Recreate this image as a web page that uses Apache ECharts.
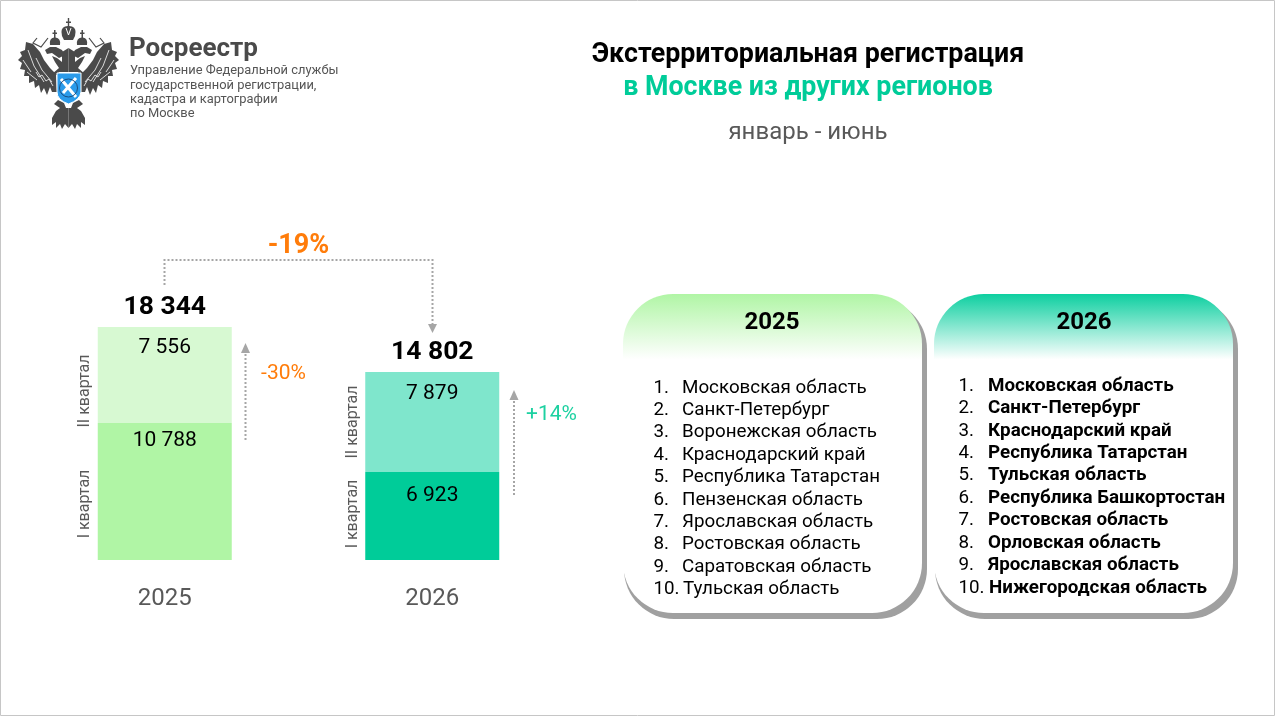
<!DOCTYPE html>
<html><head><meta charset="utf-8">
<style>html,body{margin:0;padding:0;background:#fff}#c{width:1275px;height:716px}</style>
<script src="https://cdn.jsdelivr.net/npm/echarts@6/dist/echarts.min.js"></script>
</head><body><div id="c"></div>
<script>
const years = ['2025', '2026'];
const quarter1 = [10788, 6923];
const quarter2 = [7556, 7879];
const totals = [18344, 14802];
const q1Colors = ['#B0F5A5', '#00CC99'];
const q2Colors = ['#D7F9D2', '#7FE6CC'];
const quarterNames = ['I квартал', 'II квартал'];
const list2025 = ['Московская область','Санкт-Петербург','Воронежская область','Краснодарский край','Республика Татарстан','Пензенская область','Ярославская область','Ростовская область','Саратовская область','Тульская область'];
const list2026 = ['Московская область','Санкт-Петербург','Краснодарский край','Республика Татарстан','Тульская область','Республика Башкортостан','Ростовская область','Орловская область','Ярославская область','Нижегородская область'];
const logoLines = ['Управление Федеральной службы','государственной регистрации,','кадастра и картографии','по Москве'];

const FONT = 'Roboto';
const fmt = v => String(v).replace(/\B(?=(\d{3})+$)/g, ' ');
const chart = echarts.init(document.getElementById('c'), null, {renderer:'canvas'});

const text = (x, y, t, size, color, opt={}) => ({
  type:'text', x, y, rotation: opt.rotation||0, z:opt.z||5, silent:true,
  style:{text:t, fontFamily:FONT, fontSize:size, fontWeight:opt.weight||'normal', fill:color,
    align:opt.align||'left', verticalAlign:'middle'}
});
const dotted = (pts) => ({type:'polyline', z:3, silent:true, shape:{points:pts},
  style:{stroke:'#A6A6A6', lineWidth:2, lineDash:[2,2], fill:null}});
const tri = (pts) => ({type:'polygon', z:3, silent:true, shape:{points:pts}, style:{fill:'#A6A6A6'}});

function panel(x, color, items, bold, numX, nameX, y0, dy){
  const w=299, h=319, y=294, r=50;
  const out=[
    {type:'rect', z:1, silent:true, shape:{x:x+1,y:y+5,width:w+4,height:h+1,r}, style:{fill:'#A0A0A0'}},
    {type:'rect', z:2, silent:true, shape:{x,y,width:w,height:h,r},
     style:{fill:new echarts.graphic.LinearGradient(0,0,0,1,[{offset:0,color},{offset:0.205,color:'#ffffff'},{offset:1,color:'#ffffff'}])}}
  ];
  items.forEach((t,i)=>{
    const yy=y0+dy*i;
    out.push(text(numX,yy,(i+1)+'.',18.8,'#000000'));
    out.push(text(nameX+(i===9?1:0),yy,t,18.8,'#000000',{weight:bold?'bold':'normal'}));
  });
  return out;
}

/* Emblem: left half drawn in page pixels, mirrored around x=68.5 */
let shapeId=0;
function svgShape(d, scaleX, style, z){
  const name='emb'+(shapeId++);
  echarts.graphic.registerShape(name, echarts.graphic.extendPath(d, {}));
  return {type:name, z, silent:true, originX:68.5, originY:0, scaleX, style};
}
const wing = 'M26 42 L33 44 L40 52 L44 60 L50 68 L56 74 L57 92 L52 92 L50 87 L47 95 L44 88 L41 93 L39 85 L35 88 L34 81 L29 83 L29 76 L24 76 L25 70 L20 69 L22 63 L18 60 L22 56 L20 52 L25 50 Z';
const feathers = 'M28 50 L34 66 L44 82 M23 60 L31 72 M27 72 L37 80 M36 58 L42 70 L52 82 M36 72 L39 77 L42 75 L46 81 L49 79 L53 86';
const hook = 'M37 38 L33 43 L41 47 L48 38';
const neck = 'M68.5 48 L62 52 L62 62 L57 58 L52 56 L55 62 L59 68 L52 74 L57 75 L59 72 L68.5 72 Z';
const head = 'M45 50 L50 47 L56 47 L62 50 L65 55 L59 58 L52 53 L47 54 Z';
const crownS = 'M50 45 Q49 38 54 37.5 L54 34 L52.5 34 L52.5 32.5 L54 32.5 L54 30 L55.5 30 L55.5 32.5 L57 32.5 L57 34 L55.5 34 L55.5 37.5 Q61 38 60 45 Z';
const tail = 'M60 108 L56 111 L52 118 L52 125 L56 122 L56 128 L60 124 L62 129 L65 124 L68.5 128 L68.5 108 Z';
const leg = 'M58 100 L64 103 L66 108 L60 108 L54 104 Z';
const crownC = 'M62 36 Q60 28 65 26.5 L67.8 26 L67.8 23 L66 23 L66 21.5 L67.8 21.5 L67.8 18 L69.2 18 L69.2 21.5 L71 21.5 L71 23 L69.2 23 L69.2 26 L72 26.5 Q77 28 75 36 L73 40 L64 40 Z';
const half = [wing, neck, head, crownS, tail, leg];
const emblem = [];
[1,-1].forEach(s=>{
  half.forEach(d=>emblem.push(svgShape(d,s,{fill:'#4A4A4A'},3)));
  emblem.push(svgShape(hook,s,{stroke:'#4A4A4A',lineWidth:1.2,fill:null},3));
  emblem.push(svgShape(feathers,s,{stroke:'#ffffff',lineWidth:0.8,fill:null},4));
});
emblem.push(svgShape(crownC,1,{fill:'#4A4A4A'},3));
emblem.push(svgShape('M66 28 L68.5 35 L71 28',1,{stroke:'#fff',lineWidth:1,fill:null},4));
emblem.push(svgShape('M57 73 L81 73 L81 92 Q80 100 68.5 104 Q57 100 57 92 Z',1,{fill:'#2B9BEA',stroke:'#fff',lineWidth:1},4));
emblem.push(svgShape('M61 79 L76 97 M76 78 L63 93',1,{stroke:'#fff',lineWidth:3,fill:null},5));
emblem.push({type:'circle', z:5, silent:true, shape:{cx:68.5,cy:88,r:9}, style:{stroke:'#1C4E80', lineWidth:1, fill:null}});

const graphics = [
  {type:'rect', z:0, silent:true, shape:{x:0.5,y:0.5,width:1274,height:715}, style:{fill:null, stroke:'#C6C6C6', lineWidth:1}},
  ...emblem,
  text(129,49.5,'Росреестр',26,'#4A4A4A',{weight:'bold'}),
  ...logoLines.map((t,i)=>text(130,[71,86,100,114][i],t,12.9,'#555555')),
  text(298.5,246,'-19%',27,'#FF7C0A',{weight:'bold',align:'center'}),
  dotted([[164.5,285],[164.5,260],[432.5,260],[432.5,325]]),
  tri([[428,324],[437,324],[432.5,333]]),
  dotted([[245.5,440],[245.5,352]]),
  tri([[241,353],[250,353],[245.5,343]]),
  text(283.5,374,'-30%',21,'#FF7C0A',{align:'center'}),
  dotted([[514,495],[514,399]]),
  tri([[509.5,400],[518.5,400],[514,390]]),
  text(551.5,415,'+14%',21,'#1DD1A1',{align:'center'}),
  text(85,391,quarterNames[1],16,'#595959',{rotation:Math.PI/2,align:'center'}),
  text(85,504,quarterNames[0],16,'#595959',{rotation:Math.PI/2,align:'center'}),
  text(353,422,quarterNames[1],16,'#595959',{rotation:Math.PI/2,align:'center'}),
  text(353,514,quarterNames[0],16,'#595959',{rotation:Math.PI/2,align:'center'}),
  ...panel(623,'#B0F5A5',list2025,false,653.5,682,388,22.4),
  text(772,323,years[0],24,'#000',{weight:'bold',align:'center',z:5}),
  ...panel(934,'#0DCFA0',list2026,true,958.5,988,386,22.45),
  text(1084,323,years[1],24,'#000',{weight:'bold',align:'center',z:5})
];

const q1Dist = [7.5, 13];
const q2Dist = [10, 11];
const barLabel = {show:true,position:'insideTop',fontFamily:FONT,fontSize:21,color:'#000',formatter:p=>fmt(p.value)};
const option = {
  animation:false,
  backgroundColor:'#ffffff',
  textStyle:{fontFamily:FONT},
  title:[
    {text:'Экстерриториальная регистрация', left:803, top:37, textAlign:'center', textStyle:{fontFamily:FONT,fontSize:26.8,fontWeight:'bold',color:'#000'}},
    {text:'в Москве из других регионов', left:803, top:70, textAlign:'center', textStyle:{fontFamily:FONT,fontSize:26.8,fontWeight:'bold',color:'#00CC99'}},
    {text:'январь - июнь', left:803, top:116, textAlign:'center', textStyle:{fontFamily:FONT,fontSize:24,fontWeight:'normal',color:'#595959'}}
  ],
  grid:{left:31, top:306, width:535, height:254},
  xAxis:{type:'category', data:years, axisLine:{show:false}, axisTick:{show:false},
    axisLabel:{fontFamily:FONT,fontSize:24,color:'#595959',margin:27}},
  yAxis:{type:'value', min:0, max:20000, show:false, splitLine:{show:false}},
  series:[
    {name:quarterNames[0], type:'bar', stack:'t', barWidth:134, label:barLabel,
     data:quarter1.map((v,i)=>({value:v,itemStyle:{color:q1Colors[i]},label:{distance:q1Dist[i]}}))},
    {name:quarterNames[1], type:'bar', stack:'t', barWidth:134, label:barLabel,
     data:quarter2.map((v,i)=>({value:v,itemStyle:{color:q2Colors[i]},label:{distance:q2Dist[i]}}))},
    {name:'Всего', type:'scatter', data:totals, symbolSize:1, itemStyle:{color:'transparent',opacity:1},
     label:{show:true,position:'top',distance:6,fontFamily:FONT,fontSize:26.5,fontWeight:'bold',color:'#000',opacity:1,formatter:p=>fmt(p.value)}}
  ],
  graphic:graphics
};
chart.setOption(option);
</script></body></html>
